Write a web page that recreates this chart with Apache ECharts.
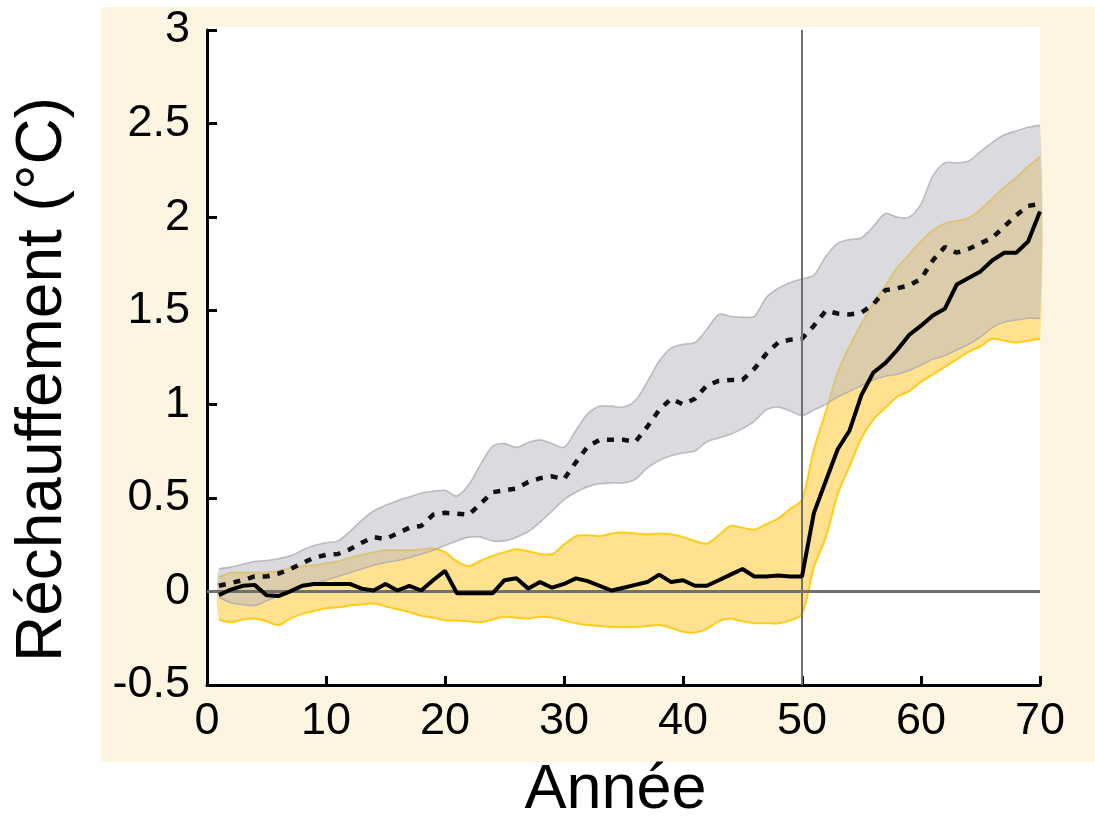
<!DOCTYPE html>
<html lang="fr">
<head>
<meta charset="utf-8">
<title>Réchauffement</title>
<script src="https://cdn.jsdelivr.net/npm/echarts@6/dist/echarts.min.js"></script>
<style>
  html, body { margin: 0; padding: 0; background: #fff; }
  #main { width: 1095px; height: 818px; }
</style>
</head>
<body>
<div id="main"></div>
<script>
// années 1..70
var years = [1,2,3,4,5,6,7,8,9,10,11,12,13,14,15,16,17,18,19,20,
  21,22,23,24,25,26,27,28,29,30,31,32,33,34,35,36,37,38,39,40,
  41,42,43,44,45,46,47,48,49,50,51,52,53,54,55,56,57,58,59,60,
  61,62,63,64,65,66,67,68,69,70];

// courbe pointillée (moyenne, enveloppe grise)
var meanGray = [0.03,0.045,0.06,0.08,0.08,0.095,0.12,0.15,0.18,0.195,
  0.20,0.225,0.26,0.29,0.28,0.31,0.34,0.35,0.41,0.42,
  0.415,0.41,0.47,0.53,0.54,0.55,0.585,0.605,0.615,0.60,
  0.69,0.775,0.81,0.81,0.81,0.80,0.88,0.97,1.03,1.00,
  1.03,1.10,1.125,1.13,1.13,1.19,1.27,1.33,1.345,1.35,
  1.42,1.50,1.485,1.48,1.49,1.535,1.61,1.62,1.635,1.67,
  1.77,1.84,1.81,1.83,1.86,1.89,1.95,2.01,2.06,2.07];

// courbe pleine (moyenne, enveloppe jaune)
var meanYellow = [-0.02,0.01,0.03,0.035,-0.02,-0.025,0.0,0.03,0.04,0.04,
  0.04,0.04,0.015,0.005,0.04,0.005,0.03,0.005,0.06,0.11,
  -0.01,-0.01,-0.01,-0.01,0.06,0.07,0.015,0.05,0.02,0.04,
  0.07,0.055,0.03,0.005,0.02,0.035,0.05,0.09,0.05,0.06,
  0.03,0.03,0.06,0.09,0.12,0.08,0.08,0.085,0.08,0.08,
  0.42,0.59,0.76,0.86,1.05,1.17,1.22,1.29,1.37,1.42,
  1.475,1.51,1.64,1.675,1.71,1.77,1.81,1.81,1.87,2.03];

// enveloppe grise
var grayUpper = [0.12,0.13,0.145,0.16,0.165,0.175,0.19,0.22,0.245,0.26,
  0.27,0.32,0.38,0.43,0.46,0.485,0.505,0.525,0.535,0.54,
  0.51,0.57,0.68,0.775,0.79,0.77,0.795,0.81,0.79,0.77,
  0.86,0.95,0.99,0.99,0.985,1.02,1.12,1.23,1.30,1.32,
  1.33,1.40,1.48,1.47,1.465,1.47,1.57,1.62,1.65,1.67,
  1.69,1.79,1.86,1.88,1.89,1.95,2.02,2.00,2.00,2.07,
  2.22,2.29,2.29,2.30,2.35,2.40,2.44,2.46,2.48,2.49];
var grayLower = [-0.03,-0.06,-0.07,-0.075,-0.05,-0.025,0.0,0.02,0.04,0.06,
  0.08,0.10,0.12,0.14,0.155,0.165,0.18,0.20,0.22,0.245,
  0.27,0.29,0.29,0.27,0.27,0.29,0.32,0.37,0.43,0.49,
  0.53,0.56,0.575,0.58,0.58,0.60,0.66,0.70,0.725,0.74,
  0.75,0.80,0.82,0.84,0.87,0.91,0.97,0.985,0.965,0.94,
  0.97,1.00,1.04,1.07,1.10,1.13,1.15,1.16,1.18,1.21,
  1.24,1.26,1.29,1.32,1.36,1.41,1.44,1.45,1.46,1.46];

// enveloppe jaune
var yellowUpper = [0.075,0.10,0.10,0.10,0.10,0.11,0.125,0.135,0.14,0.15,
  0.16,0.18,0.195,0.21,0.22,0.22,0.22,0.225,0.23,0.21,
  0.16,0.135,0.165,0.19,0.21,0.225,0.215,0.20,0.20,0.25,
  0.295,0.30,0.295,0.31,0.315,0.31,0.305,0.31,0.305,0.29,
  0.27,0.255,0.30,0.35,0.34,0.33,0.36,0.39,0.44,0.49,
  0.76,0.96,1.17,1.31,1.43,1.54,1.63,1.73,1.80,1.87,
  1.93,1.965,1.98,1.995,2.04,2.10,2.16,2.21,2.27,2.32];
var yellowLower = [-0.15,-0.165,-0.15,-0.145,-0.16,-0.18,-0.145,-0.12,-0.105,-0.09,
  -0.085,-0.075,-0.07,-0.065,-0.08,-0.095,-0.11,-0.13,-0.14,-0.155,
  -0.155,-0.16,-0.165,-0.15,-0.135,-0.14,-0.145,-0.135,-0.14,-0.155,
  -0.17,-0.18,-0.185,-0.19,-0.19,-0.19,-0.185,-0.18,-0.195,-0.215,
  -0.22,-0.20,-0.16,-0.145,-0.16,-0.17,-0.17,-0.17,-0.155,-0.12,
  0.13,0.29,0.52,0.67,0.82,0.92,0.98,1.04,1.07,1.12,
  1.16,1.20,1.24,1.28,1.31,1.35,1.34,1.33,1.34,1.35];

var xTicks = [0, 10, 20, 30, 40, 50, 60, 70];
var yTicks = [-0.5, 0, 0.5, 1, 1.5, 2, 2.5, 3];

var FONT = 'Liberation Sans';

function pairs(vals) {
  return years.map(function (y, i) { return [y, vals[i]]; });
}

// enveloppe = polygone entre borne haute et borne basse
function band(upper, lower, fill, edge, edgeWidth) {
  return function (params, api) {
    var top = years.map(function (y, i) { return api.coord([y, upper[i]]); });
    var bot = years.map(function (y, i) { return api.coord([y, lower[i]]); });
    return {
      type: 'group',
      children: [
        { type: 'polygon', shape: { points: top.concat(bot.slice().reverse()), smooth: 0.3 },
          style: { fill: fill } },
        { type: 'polyline', shape: { points: top, smooth: 0.3 },
          style: { fill: null, stroke: edge, lineWidth: edgeWidth } },
        { type: 'polyline', shape: { points: bot, smooth: 0.3 },
          style: { fill: null, stroke: edge, lineWidth: edgeWidth } }
      ]
    };
  };
}

var myChart = echarts.init(document.getElementById('main'));

myChart.setOption({
  animation: false,
  backgroundColor: '#fff',
  textStyle: { fontFamily: FONT },
  graphic: [
    { type: 'rect', z: -100, shape: { x: 101, y: 7, width: 994, height: 755 },
      style: { fill: '#fdf4e1' } },
    { type: 'rect', z: -90, shape: { x: 207, y: 27, width: 833, height: 660 },
      style: { fill: '#fff' } }
  ],
  grid: { left: 207, right: 55, top: 30, bottom: 133, outerBoundsMode: 'none', containLabel: false },
  xAxis: {
    type: 'value', min: 0, max: 70, interval: 10,
    name: 'Année', nameLocation: 'middle', nameGap: 74,
    nameTextStyle: { fontSize: 63, color: '#000', fontFamily: FONT, padding: [0, 16, 0, 0] },
    axisLine: { show: true, onZero: false, lineStyle: { color: '#000', width: 3 } },
    axisTick: { show: true, inside: true, length: 9, lineStyle: { color: '#000', width: 3 } },
    axisLabel: { fontSize: 45, color: '#000', margin: 14, fontFamily: FONT,
      customValues: xTicks },
    splitLine: { show: false }
  },
  yAxis: {
    type: 'value', min: -0.5, max: 3, interval: 0.5,
    name: 'Réchauffement (°C)', nameLocation: 'middle', nameGap: 132, nameRotate: 90,
    nameTextStyle: { fontSize: 64, color: '#000', fontFamily: FONT, padding: [0, 44, 0, 0] },
    axisLine: { show: true, onZero: false, lineStyle: { color: '#000', width: 3 } },
    axisTick: { show: true, inside: true, length: 10, lineStyle: { color: '#000', width: 3 } },
    axisLabel: { fontSize: 45, color: '#000', margin: 17, fontFamily: FONT,
      customValues: yTicks },
    splitLine: { show: false }
  },
  series: [
    {
      name: 'enveloppe jaune', type: 'custom', z: 1, silent: true,
      data: [0],
      renderItem: band(yellowUpper, yellowLower, '#ffe18f', '#ffcc1a', 2)
    },
    {
      name: 'enveloppe grise', type: 'custom', z: 2, silent: true,
      data: [0],
      renderItem: band(grayUpper, grayLower, 'rgba(190,190,196,0.55)', 'rgba(165,165,172,0.7)', 1.6)
    },
    {
      name: 'repères', type: 'line', z: 3, data: [], silent: true,
      markLine: {
        symbol: 'none', silent: true, animation: false,
        label: { show: false },
        data: [
          { yAxis: 0, lineStyle: { color: '#707070', width: 3, type: 'solid' } },
          { xAxis: 50, lineStyle: { color: '#707070', width: 2, type: 'solid' } }
        ]
      }
    },
    {
      name: 'moyenne grise', type: 'line', z: 4, symbol: 'none',
      data: pairs(meanGray),
      lineStyle: { color: '#111', width: 4.5, type: [7, 8], cap: 'butt' }
    },
    {
      name: 'moyenne jaune', type: 'line', z: 5, symbol: 'none',
      data: pairs(meanYellow),
      lineStyle: { color: '#000', width: 4 }
    }
  ]
});
</script>
</body>
</html>
